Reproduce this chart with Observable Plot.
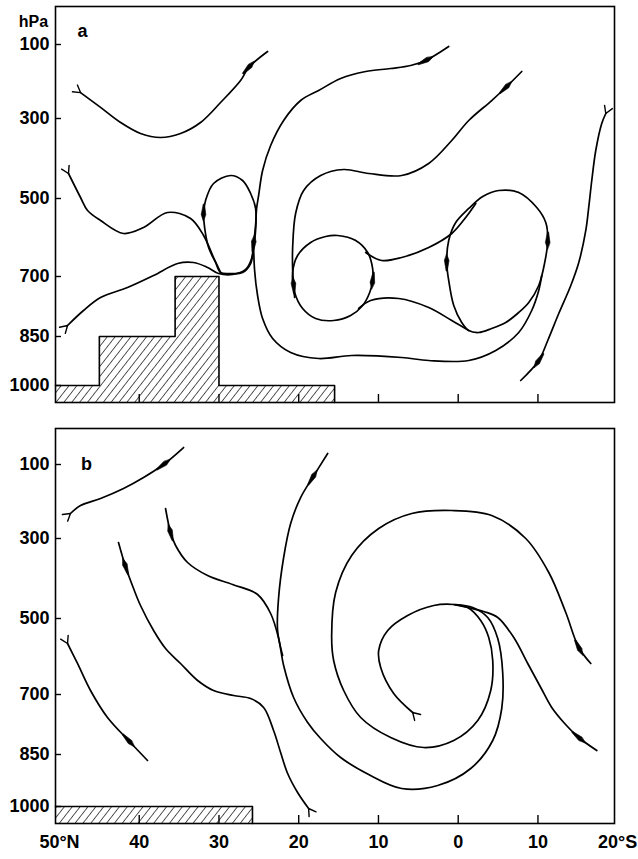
<!DOCTYPE html>
<html><head><meta charset="utf-8">
<script src="https://cdn.jsdelivr.net/npm/d3@7"></script>
<script src="https://cdn.jsdelivr.net/npm/@observablehq/plot@0.6"></script>
<style>
body{margin:0;background:#fff;}
#chart{width:638px;height:859px;}
#chart svg{display:block;}
</style></head><body><div id="chart"></div>
<script>
// ---------- axis data ----------
const pressureTicks = [100, 300, 500, 700, 850, 1000];
const latTicks = [50, 40, 30, 20, 10, 0, -10, -20];
const latTickLabels = ["50°N", "40", "30", "20", "10", "0", "10", "20°S"];
const latTickMarks = [40, 30, 20, 10, 0, -10];
const panelLabels = ["a", "b"];

// ---------- terrain (lat, top pressure) ----------
const terrainA = [[50.5, 1000], [45, 850], [35.5, 700], [30, 1000], [15.5, 1000]];
const terrainB = [[50.5, 1000], [25.8, 1000]];

// ---------- panel a streamlines [lat, hPa] ----------
const a1 = [[47.36,230],[44.85,270],[42.34,310],[39.84,337.5],[37.33,347.5],[34.82,337.5],[32.31,310],[29.8,256.8],[27.29,197.3],[26.28,162.2],[23.9,118.9]];
const a2 = [[48.87,437.5],[47.36,497.5],[46.48,530.8],[44.85,556.4],[41.97,589.7],[39.46,574.4],[36.45,535.9],[33.56,551.3],[31.93,594.9],[30.68,651.3],[29.8,689.7]];
const a3 = [[48.99,822.5],[46.99,785],[44.85,752.5],[41.47,727.5],[38.2,697.4],[35.19,666.7],[33.19,664.1],[31.43,676.9],[30.05,692.3],[28.29,694.9],[26.66,682],[25.91,653.8],[25.66,615.4],[25.41,569.2],[25.28,525.6],[25.03,492.5],[24.53,430],[23.52,367.5],[21.89,305],[19.76,251.4],[17.5,224.3],[14.74,191.9],[11.6,173],[8.47,164.9],[5.96,156.8],[4.08,143.2],[1.19,105.4]];
const e1 = [[28.54,442.5],[30.68,462.5],[31.68,505.1],[31.93,535.9],[31.8,574.4],[31.3,625.6],[30.43,664.1],[29.8,689.7],[28.54,692.3],[27.04,689.7],[26.03,666.7],[25.66,625.6],[25.41,582],[25.41,525.6],[26.03,487.5],[27.04,455]];
const dLoop = [[25.66,620.5],[25.53,684.6],[25.16,747.5],[24.53,805],[23.27,856.1],[21.01,899],[17.5,917.3],[13.36,908.2],[7.09,914.3],[3.7,923.5],[-1.32,923.5],[-4.71,892.9],[-7.59,840],[-9.22,785],[-10.1,735],[-10.48,697.4]];
const bLine = [[20.51,752.5],[20.64,722.5],[20.76,684.6],[20.76,625.6],[20.39,538.5],[19.38,480],[17.25,442.5],[14.36,427.5],[11.23,437.5],[7.09,442.5],[3.7,412.5],[0.81,355],[-1.32,305],[-4.2,251.4],[-5.96,216.2],[-7.97,173]];
const e2 = [[15.12,594.9],[12.86,607.7],[11.35,638.5],[10.73,679.5],[10.73,710],[11.1,740],[11.98,772.5],[13.49,797.5],[15.62,810],[17.88,805],[19.51,780],[20.51,740],[20.76,689.7],[20.14,646.2],[18.5,612.8],[16.62,597.4]];
const n1 = [[11.6,638.5],[9.6,659],[7.09,651.3],[3.7,625.6],[0.81,589.7],[-0.94,548.7],[-2.2,512.8]];
const n2 = [[12.48,780],[10.98,760],[7.46,755],[3.7,777.5],[0.81,810],[-1.32,835]];
const e3 = [[-5.08,480],[-7.59,485],[-9.85,523.1],[-10.98,561.5],[-11.23,607.7],[-10.85,664.1],[-10.1,722.5],[-8.85,765],[-7.59,790],[-5.96,815],[-4.2,830],[-2.57,840],[-1.32,835],[-0.44,815],[0.56,772.5],[1.19,710],[1.44,664.1],[1.19,607.7],[0.31,561.5],[-1.32,525.6],[-3.08,495]];
const fLine = [[-18.51,286.5],[-18.0,312.5],[-17.25,380],[-16.75,455],[-16.37,522.3],[-16.0,582],[-15.12,664.1],[-14.12,722.5],[-12.61,792.5],[-11.23,862.2],[-10.1,923.5],[-7.84,984.7]];

// ---------- panel b streamlines [lat, hPa] ----------
const g1 = [[48.62,232.4],[47.36,210.8],[44.85,191.9],[41.97,164.9],[39.46,135.1],[36.95,100],[34.44,52.8]];
const g2 = [[18.76,1005.9],[20.14,959.6],[21.39,904.8],[22.27,845],[23.15,790],[24.4,732.5],[26.03,710],[28.17,702.5],[30.68,689.5],[32.68,663.2],[34.82,618.4],[36.7,578.9],[38.2,531.6],[39.84,467.5],[40.71,425],[41.72,370],[42.6,310]];
const g3 = [[0.31,465],[-1.82,472.5],[-3.7,497.5],[-4.96,552.6],[-5.58,642.1],[-5.46,735],[-4.33,815],[-1.57,890.4],[2.57,939.4],[7.09,948.1],[11.23,907.7],[14.74,858.7],[17.25,810],[18.88,770],[20.64,707.5],[21.89,623.7],[22.52,552.6],[23.52,487.5],[25.16,440],[28.29,415],[31.43,392.5],[33.94,360],[35.44,317.5],[36.07,283.8],[36.7,218.9]];
const lLine = [[22.02,597.4],[22.65,531.6],[22.52,447.5],[21.89,347.5],[21.01,259.5],[19.76,189.2],[18.25,135.1],[16.37,69.4]];
const mLine = [[48.99,565.8],[47.74,618.4],[46.11,689.5],[43.98,757.5],[41.34,815],[38.96,867.3]];
const spiral = [[5.71,745],[8.09,697.4],[9.72,629],[9.97,584.2],[8.84,531.6],[6.34,492.5],[3.07,467.5],[0.56,465],[-1.19,472.5],[-2.82,505.3],[-3.83,550],[-4.33,610.5],[-4.08,689.5],[-2.45,765],[0.56,815],[4.33,832.5],[8.47,807.5],[12.23,757.5],[14.36,689.5],[15.62,610.5],[15.87,544.7],[15.37,435],[13.36,342.5],[9.97,273],[5.83,232.4],[0.81,224.3],[-4.2,237.8],[-8.47,300],[-11.36,385],[-13.49,485],[-15.12,576.3],[-16.63,618.4]];
const kLine = [[0.56,465],[-1.19,472.5],[-3.2,482.5],[-4.96,497.5],[-6.97,550],[-8.72,618.4],[-10.35,681.6],[-11.73,732.5],[-13.24,770],[-15.12,807.5],[-17.38,840]];

// arrow positions (line, vertex index) and streamline starts with forked tails
const arrowsA = [["a1",9],["a3",12],["a3",25],["e1",3],["b",1],["b",14],["e2",4],["e3",4],["e3",16],["f",10]];
const arrowsB = [["g1",5],["g2",15],["g3",23],["l",6],["m",4],["s",30],["k",9]];
const tailsA = ["a1","a2","a3","f"];
const tailsB = ["g1","g2","m","s"];

// ---------- tables built for the library ----------
const linesA = {
  a1: {pts: a1}, a2: {pts: a2}, a3: {pts: a3}, e1: {pts: e1, closed: true},
  d: {pts: dLoop}, b: {pts: bLine}, e2: {pts: e2, closed: true},
  n1: {pts: n1}, n2: {pts: n2}, e3: {pts: e3, closed: true}, f: {pts: fLine}
};
const linesB = {
  g1: {pts: g1}, g2: {pts: g2}, g3: {pts: g3}, l: {pts: lLine},
  m: {pts: mLine}, s: {pts: spiral}, k: {pts: kLine}
};

// ---------- scales / layout ----------
const W = 638;
const xDomain = [50.5, -19.6];
const yDomain = [0, 100, 300, 500, 700, 850, 1000, 1050];   // hPa breakpoints of the (hand-drawn, piecewise) pressure axis
const mL = 55, mR = 24;
const yRangeA = [6, 44, 118, 198, 276, 336, 385, 402];
const yRangeB = [23, 59, 133, 213, 289, 349, 401, 418];
const FONT = "'Liberation Sans', Arial, Helvetica, sans-serif";

// long narrow arrowhead, widest toward the front
const spindle = {draw(ctx, l) { const w = 2.3; ctx.moveTo(0, -l); ctx.lineTo(w, -l * 0.62); ctx.lineTo(0.6, 0); ctx.lineTo(-0.6, 0); ctx.lineTo(-w, -l * 0.62); ctx.closePath(); }};
const fork = {draw(ctx, l) { ctx.moveTo(-l * 0.6, -l); ctx.lineTo(0, 0); ctx.lineTo(l * 0.6, -l); }};

function arrowData(lines, specs, sx, sy) {
  return specs.map(([name, i]) => {
    const {pts, closed} = lines[name];
    const n = pts.length;
    const a = pts[closed ? (i - 1 + n) % n : Math.max(i - 1, 0)];
    const b = pts[closed ? (i + 1) % n : Math.min(i + 1, n - 1)];
    const dx = sx(b[0]) - sx(a[0]);
    const dy = sy(b[1]) - sy(a[1]);
    return {lat: pts[i][0], p: pts[i][1], angle: Math.atan2(dx, -dy) * 180 / Math.PI};
  });
}
function tailData(lines, names, sx, sy) {
  return names.map(name => {
    const pts = lines[name].pts;
    const dx = sx(pts[0][0]) - sx(pts[1][0]);
    const dy = sy(pts[0][1]) - sy(pts[1][1]);
    return {lat: pts[0][0], p: pts[0][1], angle: Math.atan2(dx, -dy) * 180 / Math.PI};
  });
}

function panel({height, mT, mB, yRange, lines, arrows, tails, terrain, label, labelDx, labelDy, showX, hatchId}) {
  // piecewise pressure axis: hPa -> vertical position
  const warp = d3.scaleLinear().domain(yDomain).range(yRange);
  const sx = d3.scaleLinear().domain(xDomain).range([mL, W - mR]);
  const plotW = W - mL - mR, plotH = height - mT - mB;
  const lineMarks = Object.values(lines).map(({pts, closed}) =>
    Plot.line(pts, {x: d => d[0], y: d => d[1], curve: closed ? "catmull-rom-closed" : "catmull-rom",
      stroke: "black", strokeWidth: 1.7, strokeLinejoin: "round", strokeLinecap: "round"}));
  const last = terrain[terrain.length - 1][0];
  const marks = [
    Plot.areaY(terrain, {x: d => d[0], y1: 1050, y2: d => d[1], curve: "step-after", fill: `url(#${hatchId})`}),
    Plot.line([...terrain, [last, 1050]], {x: d => d[0], y: d => d[1], curve: "step-after", stroke: "black", strokeWidth: 1.6}),
    ...lineMarks,
    Plot.vector(arrowData(lines, arrows, sx, warp), {x: "lat", y: "p", rotate: "angle", length: 17, anchor: "middle",
      shape: spindle, fill: "black", stroke: "black", strokeWidth: 0.6, strokeLinejoin: "round"}),
    Plot.vector(tailData(lines, tails, sx, warp), {x: "lat", y: "p", rotate: "angle", length: 7, anchor: "start",
      shape: fork, stroke: "black", strokeWidth: 1.4}),
    Plot.tickY(pressureTicks, {y: d => d, insetRight: plotW - 6, stroke: "black", strokeWidth: 1.4}),
    Plot.tickX(latTickMarks, {x: d => d, insetTop: plotH - 8, stroke: "black", strokeWidth: 1.4}),
    Plot.frame({stroke: "black", strokeWidth: 1.6}),
    Plot.axisY(pressureTicks, {tickSize: 0, tickPadding: 6, tickFormat: d => String(d), label: null,
      fontSize: 18, fontWeight: "bold"}),
    Plot.text([label], {frameAnchor: "top-left", dx: labelDx, dy: labelDy,
      fontSize: 18, fontWeight: "bold", textAnchor: "middle"})
  ];
  if (showX) {
    marks.push(Plot.axisX(latTicks, {tickSize: 0, tickPadding: 12, label: null,
      tickFormat: d => latTickLabels[latTicks.indexOf(d)], fontSize: 18, fontWeight: "bold"}));
  } else {
    marks.push(Plot.text(["hPa"], {frameAnchor: "top-left", dx: -22, dy: 9, fontSize: 16, fontWeight: "bold", textAnchor: "middle"}));
  }
  const svg = Plot.plot({
    width: W, height, marginLeft: mL, marginRight: mR, marginTop: mT, marginBottom: mB,
    style: {fontFamily: FONT, color: "black", background: "white", overflow: "visible"},
    x: {domain: xDomain, axis: null},
    y: {transform: warp, domain: [yRange[0], yRange[yRange.length - 1]], range: [mT, height - mB], axis: null},
    marks
  });
  const ns = "http://www.w3.org/2000/svg";
  const defs = document.createElementNS(ns, "defs");
  defs.innerHTML = `<pattern id="${hatchId}" patternUnits="userSpaceOnUse" width="6.2" height="12" patternTransform="rotate(38)"><line x1="0" y1="0" x2="0" y2="12" stroke="black" stroke-width="1.3"/></pattern>`;
  svg.insertBefore(defs, svg.firstChild);
  return svg;
}

const chart = document.getElementById("chart");
chart.appendChild(panel({height: 405, mT: 6, mB: 3, yRange: yRangeA, lines: linesA, arrows: arrowsA, tails: tailsA,
  terrain: terrainA, label: panelLabels[0], labelDx: 27, labelDy: 18, showX: false, hatchId: "hatchA"}));
chart.appendChild(panel({height: 454, mT: 23, mB: 36, yRange: yRangeB, lines: linesB, arrows: arrowsB, tails: tailsB,
  terrain: terrainB, label: panelLabels[1], labelDx: 31, labelDy: 29, showX: true, hatchId: "hatchB"}));
</script></body></html>
